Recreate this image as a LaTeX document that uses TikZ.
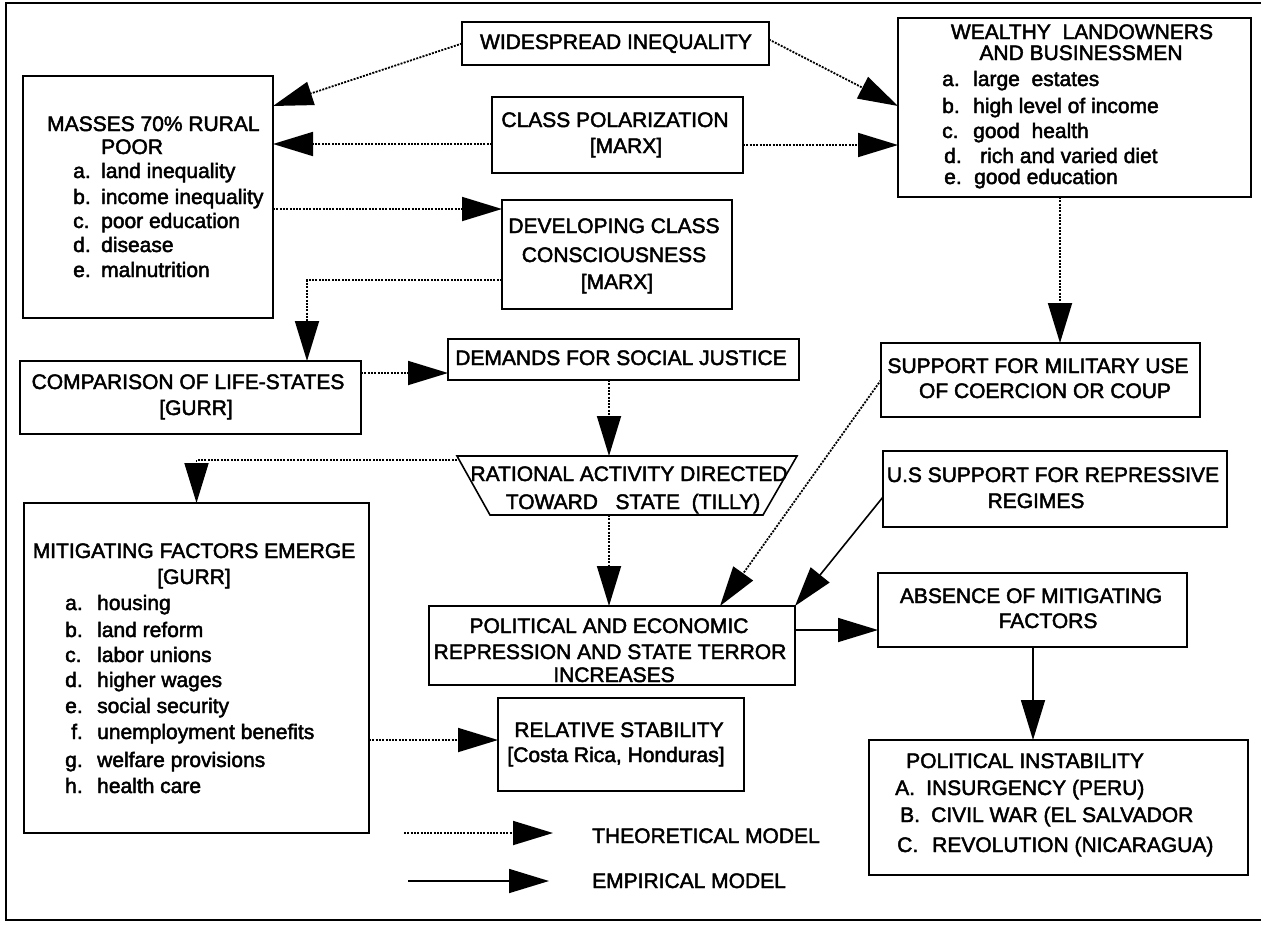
\documentclass[tikz,border=0pt]{standalone}
\usepackage{fontspec}
\setmainfont[FakeBold=2.2]{Liberation Sans}
\usetikzlibrary{arrows.meta}
\begin{document}
\begin{tikzpicture}[x=1pt,y=-1pt,
  font=\fontsize{21}{25}\selectfont,
  box/.style={draw, line width=1.6pt, inner sep=0pt, outer sep=0pt},
  t/.style={inner sep=0pt, anchor=base},
  tl/.style={inner sep=0pt, anchor=base west},
  th/.style={dash pattern=on 2pt off 1.3pt, line width=1.8pt, -{Triangle[length=40pt,width=24pt]}},
  em/.style={line width=1.6pt, -{Triangle[length=40pt,width=24pt]}}]
\useasboundingbox (0,0) rectangle (1261,929);
% outer frame
\draw[line width=1.6pt] (1261,3) -- (6,3) -- (6,920) -- (1261,920);

% boxes
\node[box, minimum width=307pt, minimum height=43pt] (wide) at (615.5,43.5) {};
\node[box, minimum width=251pt, minimum height=76pt] (classpol) at (617.5,135) {};
\node[box, minimum width=230pt, minimum height=109pt] (develop) at (617,254.5) {};
\node[box, minimum width=250pt, minimum height=242pt] (masses) at (148,197) {};
\node[box, minimum width=353pt, minimum height=179pt] (wealthy) at (1074.5,107.5) {};
\node[box, minimum width=341pt, minimum height=73pt] (compar) at (190.5,397.5) {};
\node[box, minimum width=351pt, minimum height=41pt] (demands) at (623.5,359.5) {};
\node[inner sep=0pt, outer sep=0pt, minimum width=340pt, minimum height=59pt] (rational) at (627,485.5) {};
\draw[line width=1.6pt] (rational.north west) -- (rational.north east)
  -- ([xshift=-34pt]rational.south east) -- ([xshift=33pt]rational.south west) -- cycle;
\node[box, minimum width=345pt, minimum height=330pt] (mitig) at (196.5,668) {};
\node[box, minimum width=366pt, minimum height=79pt] (polit) at (612,645.5) {};
\node[box, minimum width=309pt, minimum height=74pt] (absence) at (1032.5,610) {};
\node[box, minimum width=319pt, minimum height=74pt] (support) at (1040.5,380) {};
\node[box, minimum width=344pt, minimum height=76pt] (ussupport) at (1055,489) {};
\node[box, minimum width=246pt, minimum height=93pt] (relative) at (621,744.5) {};
\node[box, minimum width=379pt, minimum height=135pt] (instab) at (1058.5,807.5) {};

% texts
\node[t] (wideT) at (616,49) {WIDESPREAD INEQUALITY};
\node[t] (classT1) at (615,127) {CLASS POLARIZATION};
\node[t] (classT2) at (626,153) {[MARX]};
\node[t] (devT1) at (614,233) {DEVELOPING CLASS};
\node[t] (devT2) at (614,262) {CONSCIOUSNESS};
\node[t] (devT3) at (617,289) {[MARX]};

\node[tl] (masT1) at (47,131) {MASSES 70\% RURAL};
\node[tl] (masT2) at (101,154) {POOR};
\node[tl] (masA) at (73,178) {\makebox[28pt][l]{a.}land inequality};
\node[tl] (masB) at (73,204) {\makebox[28pt][l]{b.}income inequality};
\node[tl] (masC) at (73,228) {\makebox[28pt][l]{c.}poor education};
\node[tl] (masD) at (73,252) {\makebox[28pt][l]{d.}disease};
\node[tl] (masE) at (73,277) {\makebox[28pt][l]{e.}malnutrition};

\node[t] (weaT1) at (1082,39) {WEALTHY\ \ LANDOWNERS};
\node[t] (weaT2) at (1081,60) {AND BUSINESSMEN};
\node[tl] (weaA) at (942,86) {\makebox[31pt][l]{a.}large\ \ estates};
\node[tl] (weaB) at (942,113) {\makebox[31pt][l]{b.}high level of income};
\node[tl] (weaC) at (942,138) {\makebox[31pt][l]{c.}good\ \ health};
\node[tl] (weaD) at (944,163) {\makebox[36pt][l]{d.}rich and varied diet};
\node[tl] (weaE) at (944,184) {\makebox[30pt][l]{e.}good education};

\node[t] (comT1) at (188,389) {COMPARISON OF LIFE-STATES};
\node[t] (comT2) at (196,415) {[GURR]};
\node[t] (demT) at (621,365) {DEMANDS FOR SOCIAL JUSTICE};
\node[t] (ratT1) at (629,481) {RATIONAL ACTIVITY DIRECTED};
\node[t] (ratT2) at (633,509) {TOWARD\ \ \ STATE\ \ (TILLY)};

\node[t] (mitT1) at (194,558) {MITIGATING FACTORS EMERGE};
\node[t] (mitT2) at (194,584) {[GURR]};
\node[tl] (mitA) at (65,610) {\makebox[32pt][l]{a.}housing};
\node[tl] (mitB) at (65,637) {\makebox[32pt][l]{b.}land reform};
\node[tl] (mitC) at (65,662) {\makebox[32pt][l]{c.}labor unions};
\node[tl] (mitD) at (65,687) {\makebox[32pt][l]{d.}higher wages};
\node[tl] (mitE) at (65,713) {\makebox[32pt][l]{e.}social security};
\node[tl] (mitF) at (71,739) {\makebox[26pt][l]{f.}unemployment benefits};
\node[tl] (mitG) at (65,767) {\makebox[32pt][l]{g.}welfare provisions};
\node[tl] (mitH) at (65,793) {\makebox[32pt][l]{h.}health care};

\node[t] (polT1) at (609,633) {POLITICAL AND ECONOMIC};
\node[t] (polT2) at (610,659) {REPRESSION AND STATE TERROR};
\node[t] (polT3) at (614,682) {INCREASES};

\node[t] (supT1) at (1038,373) {SUPPORT FOR MILITARY USE};
\node[t] (supT2) at (1045,398) {OF COERCION OR COUP};
\node[t] (usT1) at (1053,482) {U.S SUPPORT FOR REPRESSIVE};
\node[t] (usT2) at (1036,508) {REGIMES};
\node[t] (absT1) at (1031,603) {ABSENCE OF MITIGATING};
\node[t] (absT2) at (1048,628) {FACTORS};
\node[t] (relT1) at (619,737) {RELATIVE STABILITY};
\node[t] (relT2) at (616,762) {[Costa Rica, Honduras]};

\node[tl] (insT0) at (906,768) {POLITICAL INSTABILITY};
\node[tl] (insA) at (895,795) {\makebox[31pt][l]{A.}INSURGENCY (PERU)};
\node[tl] (insB) at (900,822) {\makebox[31pt][l]{B.}CIVIL WAR (EL SALVADOR};
\node[tl] (insC) at (897,852) {\makebox[35pt][l]{C.}REVOLUTION (NICARAGUA)};

% connectors
\draw[th] (wide.west) -- ([yshift=-30pt]masses.north east);
\draw[th] ([yshift=4pt]wide.east) -- ([yshift=-88pt]wealthy.north west);
\draw[th] (classpol.west |- 0,144) -- (masses.east |- 0,144);
\draw[th] (classpol.east |- 0,145) -- (wealthy.west |- 0,145);
\draw[th] (masses.east |- 0,209) -- (develop.west |- 0,209);
\draw[th] (develop.west |- 0,280) -| (compar.north -| 307,0);
\draw[th] (compar.east |- 0,373) -- (demands.west |- 0,373);
\draw[th] (demands.south -| 609,0) -- (rational.north -| 609,0);
\draw[th] (rational.north west |- 0,460) -| (mitig.north);
\draw[th] (rational.south -| 609,0) -- (polit.north -| 609,0);
\draw[th] (wealthy.south -| 1060,0) -- (support.north -| 1060,0);
\draw[th] (support.west) -- (polit.north -| 720,0);
\draw[em] ([yshift=-8pt]ussupport.west) -- (polit.north east);
\draw[em] (polit.east |- 0,630) -- (absence.west |- 0,630);
\draw[em] (absence.south -| 1033,0) -- (instab.north -| 1033,0);
\draw[th] (mitig.east |- 0,740) -- (relative.west |- 0,740);

% legend
\coordinate (lg1s) at (404,833);
\coordinate (lg1e) at (553,833);
\coordinate (lg2s) at (408,881);
\coordinate (lg2e) at (549,881);
\draw[th] (lg1s) -- (lg1e);
\draw[em] (lg2s) -- (lg2e);
\node[tl] (lgT1) at (592,843) {THEORETICAL MODEL};
\node[tl] (lgT2) at (592,888) {EMPIRICAL MODEL};
\end{tikzpicture}
\end{document}
